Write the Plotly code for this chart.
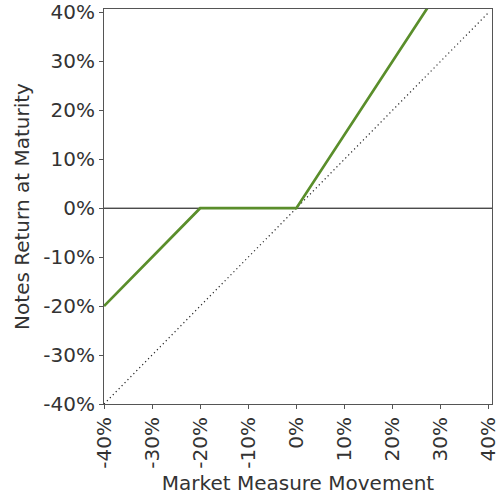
import plotly.graph_objects as go

market_move = [-40, -20, 0, 40]
note_return = [-20, 0, 0, 60]
diag_x = [-40, 40]
diag_y = [-40, 40]
tick_vals = [-40, -30, -20, -10, 0, 10, 20, 30, 40]
tick_text = [f"{v}%" for v in tick_vals]

fig = go.Figure()
fig.add_trace(go.Scatter(x=diag_x, y=diag_y, mode="lines",
                         line=dict(color="#222", width=1.2, dash="1.2px,3px"), hoverinfo="skip"))
fig.add_trace(go.Scatter(x=[-40, 40.7], y=[0, 0], mode="lines",
                         line=dict(color="black", width=1), hoverinfo="skip"))
fig.add_trace(go.Scatter(x=market_move, y=note_return, mode="lines",
                         line=dict(color="#5a8e2b", width=2.7)))

axis_common = dict(
    tickvals=tick_vals, ticktext=tick_text, showgrid=False, zeroline=False,
    showline=True, linecolor="#555", linewidth=1, mirror=True,
    ticks="outside", ticklen=4, tickcolor="#555", automargin=False,
    ticklabeloverflow="allow",
    tickfont=dict(family="DejaVu Sans", size=20, color="#333"),
)
fig.update_layout(
    width=500, height=500,
    margin=dict(l=104, r=8, t=9, b=96),
    paper_bgcolor="white", plot_bgcolor="white",
    showlegend=False,
    xaxis=dict(range=[-40, 40.7], tickangle=-90,
               title=dict(text="Market Measure Movement", standoff=8,
                          font=dict(family="DejaVu Sans", size=20, color="#333")),
               **axis_common),
    yaxis=dict(range=[-40, 40.7],
               title=dict(text="Notes Return at Maturity", standoff=8,
                          font=dict(family="DejaVu Sans", size=20, color="#333")),
               **axis_common),
)
fig.write_html("out.html", config={"displayModeBar": False},
               post_script="document.body.style.margin='0';")
